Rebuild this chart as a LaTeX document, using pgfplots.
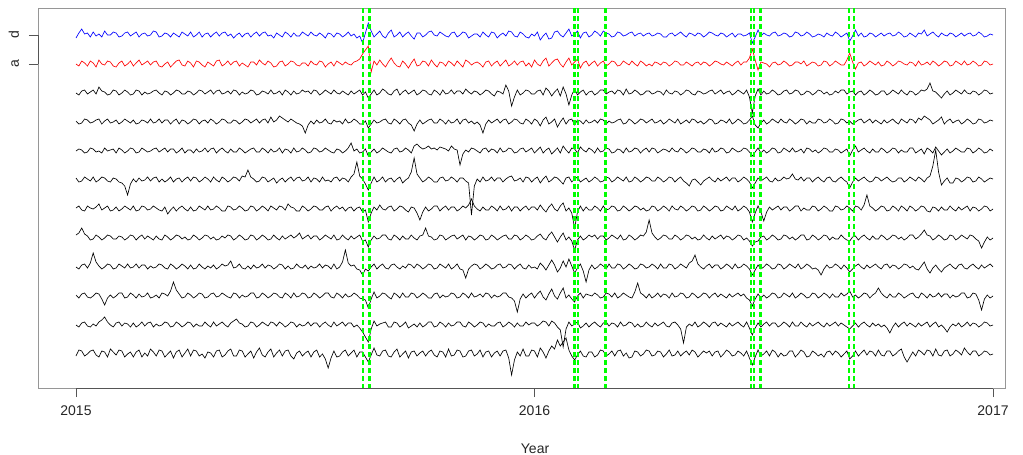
\documentclass[border=0pt]{standalone}
\usepackage{pgfplots}
\pgfplotsset{compat=1.18}
\usepackage{fontspec}
\setmainfont{Liberation Sans}
\definecolor{evgreen}{RGB}{0,255,0}
\definecolor{boxgray}{RGB}{150,150,150}
\definecolor{axisgray}{RGB}{85,85,85}
\newcommand{\lblfont}{\fontsize{14bp}{17bp}\selectfont}
% each series: half-step samples (index/2 = position on the time axis), deviations from the row baseline
\pgfplotsset{series/.style={line width=0.65bp}}

\begin{document}
\begin{tikzpicture}
\path[use as bounding box] (-38bp,-67bp) rectangle (985bp,388bp);
\begin{axis}[
  scale only axis, width=967bp, height=380bp,
  xmin=-6.63, xmax=162.09, ymin=8, ymax=388, y dir=reverse,
  clip=false,
  axis line style={boxgray, line width=0.8bp},
  xtick={0,80,160}, xticklabels={2015,2016,2017},
  ytick={35,64}, yticklabels={d,a},
  xtick pos=bottom, ytick pos=left,
  tick align=outside, major tick length=9bp,
  tick style={axisgray, line width=0.8bp},
  every tick label/.append style={font=\lblfont, text=black!85},
  xticklabel style={yshift=-5bp},
  yticklabel style={rotate=90, anchor=base, yshift=10bp},
  xlabel={Year},
  every axis x label/.style={at={(axis description cs:0.514,0)}, anchor=base, yshift=-65bp, font=\lblfont, text=black!85},
]
% axis lines drawn over the frame
\draw[axisgray, line width=0.8bp] (axis cs:0,388) -- (axis cs:160,388);
\draw[axisgray, line width=0.8bp] (axis cs:-6.63,35) -- (axis cs:-6.63,64);

% series d (blue)
\addplot[blue, series] table[row sep=\\, x expr=\coordindex/2, y expr={35-(\thisrow{v})}] {v\\
-3\\ 2\\ 6\\ 1\\ 2\\ -2\\ 3\\ -1\\ 1\\ -2\\ 4\\ 0\\ 0\\ 3\\ 2\\ -2\\ -1\\ 2\\ 3\\ -1\\
1\\ 3\\ -2\\ 1\\ 2\\ -1\\ 0\\ 4\\ 3\\ -2\\ -1\\ 2\\ 1\\ -2\\ 2\\ 0\\ -2\\ 3\\ 1\\ -1\\
3\\ -2\\ 0\\ 3\\ -2\\ 1\\ 2\\ -2\\ 1\\ 3\\ -1\\ 2\\ 3\\ -1\\ 1\\ -3\\ 0\\ 2\\ -2\\ 1\\
2\\ -2\\ 1\\ 3\\ -1\\ 2\\ 3\\ -1\\ 0\\ -3\\ 2\\ 0\\ -2\\ 3\\ 1\\ -2\\ 2\\ -1\\ -1\\ 3\\
1\\ -1\\ 3\\ 0\\ -1\\ 2\\ 0\\ -3\\ 2\\ 1\\ -2\\ 2\\ 1\\ -2\\ 0\\ 3\\ -1\\ 1\\ -3\\ -1\\
-8\\ 2\\ 12\\ 4\\ -2\\ 1\\ 4\\ -1\\ -3\\ 2\\ 5\\ -2\\ 0\\ 3\\ -2\\ 1\\ 3\\ -1\\ -4\\ 2\\
2\\ -2\\ 0\\ 3\\ 4\\ 0\\ -1\\ 3\\ 1\\ -1\\ -2\\ 2\\ 3\\ -2\\ 0\\ 3\\ 2\\ -3\\ -1\\ 1\\
1\\ -2\\ 3\\ 0\\ -2\\ 3\\ 2\\ -3\\ 0\\ 2\\ -1\\ 4\\ 3\\ -1\\ -2\\ 3\\ 1\\ -2\\ -3\\ 1\\
-1\\ 3\\ -5\\ -1\\ 2\\ -4\\ -3\\ 3\\ 4\\ 0\\ -2\\ 2\\ 6\\ -1\\ 1\\ 4\\ -3\\ 2\\ 3\\ -2\\
0\\ 4\\ 2\\ -1\\ 4\\ 2\\ 1\\ -2\\ -1\\ 3\\ 2\\ -1\\ 0\\ 2\\ 3\\ -1\\ 1\\ 2\\ -1\\ 1\\
2\\ -1\\ 0\\ 2\\ 1\\ -2\\ -2\\ 1\\ 2\\ -1\\ 1\\ 3\\ 0\\ -2\\ 2\\ 1\\ -1\\ 2\\ 1\\ -2\\
0\\ 3\\ 2\\ 0\\ -1\\ 2\\ 1\\ -2\\ 0\\ 2\\ -2\\ 1\\ 1\\ -1\\ 0\\ 2\\ -8\\ -2\\ 5\\ -1\\
2\\ 0\\ -1\\ 2\\ 3\\ -1\\ 0\\ 2\\ 1\\ -2\\ -1\\ 3\\ 2\\ -1\\ 0\\ 3\\ 1\\ -2\\ -1\\ 1\\
0\\ -2\\ 2\\ 0\\ -1\\ 3\\ 1\\ -2\\ 0\\ 2\\ -6\\ -1\\ 5\\ -1\\ 2\\ -2\\ -1\\ 2\\ 1\\ -2\\
0\\ 2\\ -1\\ 1\\ 2\\ -1\\ 0\\ 3\\ 1\\ -2\\ -1\\ 2\\ 0\\ -2\\ 2\\ 1\\ 5\\ -1\\ 1\\ 3\\
0\\ -2\\ 2\\ 0\\ -1\\ 2\\ 1\\ -2\\ 0\\ 2\\ -1\\ 1\\ 2\\ -1\\ 0\\ 3\\ 1\\ -2\\ -1\\ 1\\
0\\
};

% series a (red)
\addplot[red, series] table[row sep=\\, x expr=\coordindex/2, y expr={64-(\thisrow{v})}] {v\\
0\\ -2\\ 3\\ 1\\ -2\\ 3\\ 1\\ -3\\ 4\\ 0\\ -1\\ 3\\ 2\\ -2\\ -3\\ 1\\ 3\\ -2\\ 0\\ 3\\
-2\\ 1\\ 4\\ -1\\ 1\\ 3\\ -1\\ 2\\ 3\\ -2\\ -3\\ 0\\ 2\\ -3\\ 0\\ 3\\ 4\\ -1\\ -2\\ 3\\
1\\ -3\\ 3\\ 2\\ -1\\ -3\\ 2\\ 0\\ -2\\ 3\\ 4\\ -2\\ 0\\ 3\\ -1\\ 2\\ 3\\ -2\\ 1\\ -1\\
-3\\ 2\\ 2\\ -1\\ 4\\ 1\\ -1\\ 3\\ 1\\ -3\\ -2\\ 2\\ 3\\ -2\\ 0\\ 3\\ 2\\ -1\\ -2\\ 1\\
1\\ -2\\ 3\\ 0\\ -1\\ 3\\ 2\\ -3\\ 0\\ 2\\ -2\\ 3\\ 1\\ -1\\ 2\\ 0\\ -1\\ 2\\ 3\\ 5\\
10\\ 14\\ 18\\ -8\\ 3\\ -1\\ 4\\ 0\\ -3\\ 2\\ 6\\ 1\\ -2\\ -3\\ 3\\ 0\\ -4\\ 1\\ 5\\ -2\\
-1\\ 3\\ 2\\ -2\\ 4\\ 0\\ -3\\ 2\\ 1\\ -2\\ 3\\ 1\\ -2\\ 3\\ 0\\ -3\\ 4\\ 2\\ -1\\ 1\\
2\\ 0\\ -3\\ 2\\ 3\\ -2\\ 1\\ 3\\ -2\\ 1\\ 4\\ -2\\ 0\\ 3\\ -1\\ 2\\ 3\\ -2\\ 1\\ -3\\
4\\ 0\\ -2\\ 3\\ 6\\ -2\\ 1\\ 4\\ 5\\ 0\\ -3\\ 2\\ 6\\ -1\\ 2\\ 5\\ -4\\ 1\\ 3\\ -2\\
1\\ 3\\ -2\\ 1\\ 3\\ -2\\ 0\\ 3\\ 2\\ -2\\ -1\\ 3\\ 1\\ -1\\ 3\\ 0\\ -2\\ 3\\ 1\\ -2\\
0\\ -2\\ 2\\ 1\\ -1\\ 2\\ 1\\ -2\\ 0\\ 3\\ 2\\ -1\\ -1\\ 2\\ 0\\ -2\\ 1\\ 2\\ -1\\ 2\\
1\\ -2\\ 0\\ 3\\ 2\\ 0\\ -1\\ 2\\ 0\\ -2\\ 1\\ 3\\ -1\\ 2\\ 2\\ 6\\ 15\\ 4\\ -6\\ 2\\
1\\ 0\\ -3\\ 1\\ 2\\ -1\\ 0\\ 3\\ 1\\ -2\\ -1\\ 2\\ 2\\ 0\\ 3\\ -2\\ 0\\ 2\\ 1\\ -2\\
-1\\ 3\\ 2\\ -2\\ 0\\ 3\\ 1\\ -1\\ -1\\ 4\\ 11\\ 2\\ -5\\ 1\\ 2\\ -2\\ 0\\ 3\\ 1\\ -1\\
2\\ -2\\ -1\\ 3\\ 1\\ -2\\ 0\\ 3\\ 2\\ 0\\ -1\\ 2\\ 1\\ -2\\ 3\\ -1\\ 0\\ 2\\ -1\\ 3\\
1\\ -2\\ 0\\ 3\\ 2\\ -2\\ -1\\ 3\\ 1\\ -1\\ 3\\ -1\\ 0\\ 3\\ 1\\ -2\\ -1\\ 3\\ 2\\ -1\\
0\\
};

% series 3
\addplot[black, series] table[row sep=\\, x expr=\coordindex/2, y expr={93-(\thisrow{v})}] {v\\
0\\ -2\\ 2\\ 3\\ -1\\ 1\\ 3\\ -1\\ 6\\ 2\\ 1\\ -2\\ -1\\ 3\\ 2\\ -2\\ 0\\ 3\\ 1\\ -2\\
-1\\ 3\\ 2\\ -2\\ 1\\ -1\\ 0\\ 2\\ 3\\ 0\\ -2\\ 2\\ 1\\ -2\\ 0\\ 3\\ 2\\ -1\\ -1\\ 2\\
1\\ -2\\ 0\\ 3\\ 2\\ -1\\ 1\\ 3\\ -1\\ 2\\ 3\\ -1\\ 0\\ 2\\ -1\\ 3\\ 2\\ -2\\ 1\\ -1\\
0\\ 3\\ 2\\ -2\\ -1\\ 2\\ 1\\ -1\\ 3\\ -1\\ 0\\ 2\\ -2\\ 3\\ 1\\ -2\\ 2\\ -1\\ 0\\ 3\\
1\\ 2\\ -1\\ 3\\ 2\\ -2\\ 0\\ 3\\ 1\\ -1\\ 3\\ 0\\ -1\\ 2\\ 0\\ -2\\ 2\\ -1\\ 1\\ 3\\
-2\\ 1\\ -5\\ -1\\ 3\\ -2\\ 0\\ 4\\ 2\\ -1\\ -2\\ 2\\ 4\\ -2\\ 1\\ 3\\ -1\\ 1\\ 3\\ -2\\
0\\ 3\\ 2\\ -1\\ -2\\ 3\\ 1\\ -2\\ 3\\ -1\\ 0\\ 3\\ -1\\ 2\\ 2\\ -1\\ 4\\ 1\\ -1\\ 2\\
1\\ -2\\ 0\\ 3\\ 2\\ -1\\ -3\\ 2\\ 1\\ -1\\ 8\\ 2\\ -13\\ -4\\ 3\\ -2\\ 0\\ 3\\ 2\\ -1\\
-1\\ 2\\ 3\\ -2\\ 5\\ 2\\ -3\\ 1\\ 4\\ -3\\ 6\\ -1\\ -12\\ -2\\ 4\\ -2\\ 1\\ 3\\ -2\\ 1\\
2\\ -2\\ 0\\ 3\\ 3\\ -1\\ 1\\ 2\\ -1\\ 3\\ 2\\ -2\\ 4\\ -1\\ 0\\ 3\\ 1\\ -2\\ -1\\ 2\\
2\\ -1\\ 0\\ 2\\ 1\\ -2\\ 3\\ 0\\ -1\\ 2\\ 1\\ -2\\ 0\\ 3\\ 2\\ -1\\ -2\\ 2\\ 1\\ -1\\
0\\ 2\\ 3\\ -1\\ 1\\ 3\\ -1\\ 1\\ 2\\ -2\\ 0\\ 3\\ 1\\ -1\\ 3\\ -4\\ -20\\ -3\\ 4\\ -2\\
2\\ -1\\ 0\\ 3\\ 1\\ -2\\ -1\\ 2\\ 3\\ -1\\ 0\\ 3\\ 2\\ -2\\ -1\\ 2\\ 1\\ -2\\ 0\\ 3\\
2\\ -1\\ 1\\ -2\\ -1\\ 2\\ 0\\ 3\\ 3\\ -1\\ 1\\ 2\\ -2\\ 1\\ 2\\ -2\\ 0\\ 3\\ 1\\ -2\\
-1\\ 2\\ 2\\ -2\\ 0\\ 3\\ 1\\ -1\\ 3\\ 0\\ -2\\ 2\\ 1\\ -2\\ 0\\ 3\\ 2\\ 4\\ 10\\ 2\\
1\\ -2\\ -5\\ -1\\ 2\\ -2\\ 0\\ 3\\ 1\\ -1\\ 3\\ 0\\ -1\\ 2\\ 1\\ -2\\ 0\\ 3\\ 2\\ -1\\
0\\
};

% series 4
\addplot[black, series] table[row sep=\\, x expr=\coordindex/2, y expr={122-(\thisrow{v})}] {v\\
1\\ -2\\ -1\\ 3\\ 2\\ -1\\ 0\\ 2\\ 3\\ -2\\ 1\\ 3\\ -1\\ 0\\ 2\\ -2\\ 0\\ 3\\ 1\\ -1\\
2\\ -2\\ -1\\ 2\\ 1\\ -1\\ 3\\ -1\\ 0\\ 3\\ -1\\ 2\\ 2\\ -2\\ 1\\ 3\\ -2\\ 2\\ 1\\ -2\\
0\\ 3\\ 2\\ -2\\ 1\\ 2\\ -1\\ 3\\ 1\\ -2\\ 0\\ 3\\ 2\\ -1\\ -1\\ 2\\ 1\\ -2\\ 0\\ 3\\
2\\ -1\\ 1\\ 3\\ -1\\ 2\\ 3\\ -1\\ 5\\ 0\\ 2\\ 6\\ 4\\ 2\\ 0\\ 3\\ 1\\ -1\\ -2\\ -4\\
-11\\ -3\\ 1\\ -2\\ 2\\ -1\\ 0\\ 3\\ -1\\ -2\\ 2\\ 0\\ 1\\ -2\\ 3\\ -1\\ 0\\ 3\\ 1\\ -2\\
-2\\ 1\\ -6\\ -2\\ 2\\ -1\\ 0\\ 2\\ 3\\ -1\\ -2\\ 3\\ 1\\ -2\\ 2\\ 3\\ -1\\ -3\\ -9\\ -2\\
2\\ -2\\ 0\\ 2\\ 3\\ -1\\ -1\\ 3\\ 1\\ -2\\ 2\\ -1\\ 0\\ 3\\ -2\\ 2\\ 3\\ -1\\ 1\\ -2\\
0\\ -3\\ -11\\ -2\\ 2\\ -1\\ 1\\ 3\\ -1\\ 2\\ 3\\ -2\\ 0\\ 3\\ 2\\ -1\\ -2\\ 3\\ 1\\ -2\\
3\\ 1\\ -4\\ 2\\ 5\\ -2\\ 0\\ 3\\ -5\\ 0\\ 4\\ -2\\ 2\\ 3\\ -3\\ 2\\ 1\\ -2\\ 2\\ -1\\
0\\ 2\\ -1\\ 3\\ 2\\ -2\\ 1\\ -1\\ 0\\ 2\\ 3\\ -2\\ -1\\ 3\\ 1\\ -2\\ 0\\ 3\\ 2\\ -1\\
1\\ 3\\ -1\\ 0\\ 2\\ -2\\ 0\\ 3\\ 1\\ -1\\ 3\\ -2\\ 0\\ 2\\ -1\\ 3\\ 2\\ -1\\ 1\\ -2\\
0\\ 3\\ 2\\ -2\\ -1\\ 2\\ 1\\ -1\\ 3\\ -2\\ 0\\ 3\\ 1\\ -2\\ -1\\ 2\\ 6\\ -3\\ -6\\ -1\\
2\\ -2\\ 0\\ 3\\ 1\\ -1\\ 3\\ 0\\ -1\\ 3\\ 1\\ -2\\ 0\\ 3\\ 2\\ -2\\ 1\\ -1\\ -1\\ 3\\
2\\ -1\\ 0\\ 3\\ 1\\ -2\\ -1\\ 3\\ 2\\ -1\\ 1\\ -2\\ 0\\ 2\\ 3\\ -1\\ 1\\ 3\\ -1\\ 2\\
0\\ -2\\ 2\\ -1\\ 1\\ 3\\ 0\\ -2\\ 3\\ 1\\ -1\\ 3\\ 2\\ -1\\ 4\\ 2\\ 6\\ 4\\ 2\\ -2\\
0\\ 2\\ 5\\ -2\\ 1\\ 3\\ -1\\ 1\\ 2\\ -2\\ 0\\ 3\\ 1\\ -2\\ -1\\ 3\\ 2\\ -1\\ 0\\ 2\\
1\\
};

% series 5
\addplot[black, series] table[row sep=\\, x expr=\coordindex/2, y expr={151-(\thisrow{v})}] {v\\
0\\ 2\\ 1\\ -2\\ -1\\ 3\\ 2\\ -1\\ 0\\ -2\\ 3\\ 0\\ 1\\ 2\\ -2\\ 3\\ 1\\ -2\\ 0\\ 3\\
2\\ -2\\ -1\\ 3\\ 1\\ -1\\ 0\\ 2\\ 3\\ -1\\ 1\\ 3\\ -1\\ 2\\ 2\\ -2\\ 0\\ 3\\ -2\\ 1\\
1\\ -2\\ 2\\ -1\\ 0\\ 3\\ -1\\ 2\\ 3\\ -2\\ 1\\ 3\\ 0\\ -2\\ 2\\ -1\\ -1\\ 3\\ 1\\ -2\\
0\\ 2\\ 3\\ -1\\ -1\\ 3\\ 1\\ -2\\ 2\\ -1\\ 0\\ 3\\ -2\\ 2\\ 1\\ -2\\ 3\\ -1\\ 0\\ 3\\
1\\ -2\\ -1\\ 3\\ 2\\ -1\\ 0\\ 3\\ 1\\ -1\\ -2\\ 2\\ 1\\ -2\\ 0\\ 3\\ 8\\ 0\\ 2\\ -2\\
-1\\ 2\\ -5\\ -1\\ 2\\ -2\\ 0\\ 3\\ 1\\ -1\\ -2\\ 2\\ 3\\ -1\\ 0\\ 3\\ 1\\ -2\\ 5\\ 7\\
4\\ 2\\ 3\\ 5\\ 2\\ 3\\ 1\\ 4\\ 3\\ 2\\ 0\\ 5\\ 2\\ 1\\ -14\\ -3\\ 1\\ -1\\ 3\\ 2\\
0\\ -2\\ 2\\ 3\\ -1\\ 2\\ 1\\ -2\\ 3\\ -1\\ 0\\ 3\\ 2\\ -2\\ -1\\ 2\\ 3\\ -1\\ 1\\ 3\\
-2\\ 1\\ 4\\ -2\\ 1\\ 3\\ -3\\ 0\\ 3\\ -2\\ 5\\ 1\\ -2\\ 3\\ 2\\ -2\\ 4\\ 1\\ -1\\ 3\\
1\\ -2\\ 3\\ -1\\ 0\\ 3\\ 2\\ -2\\ -1\\ 2\\ 1\\ -2\\ 3\\ -1\\ 0\\ 3\\ 2\\ -2\\ 1\\ 3\\
-1\\ 3\\ 2\\ -2\\ 0\\ 2\\ 1\\ -1\\ 3\\ 0\\ -1\\ 3\\ 1\\ -2\\ 0\\ 3\\ 2\\ -1\\ -1\\ 2\\
1\\ -2\\ 3\\ -1\\ 0\\ 3\\ 2\\ -2\\ -1\\ 3\\ 1\\ -1\\ 0\\ 3\\ 2\\ -1\\ -5\\ -1\\ 3\\ -2\\
1\\ -2\\ 0\\ 3\\ 2\\ -2\\ -1\\ 3\\ 1\\ -1\\ 3\\ -1\\ 0\\ 2\\ -2\\ 3\\ 2\\ -1\\ 1\\ -2\\
0\\ 3\\ 2\\ -1\\ -1\\ 2\\ 1\\ -2\\ 0\\ 2\\ -5\\ 1\\ 5\\ -1\\ 1\\ 3\\ 0\\ -2\\ 2\\ -1\\
-1\\ 3\\ 1\\ -2\\ 0\\ 3\\ 2\\ -2\\ 1\\ -1\\ -1\\ 3\\ 3\\ -2\\ 0\\ 2\\ -3\\ 3\\ 1\\ -2\\
4\\ 0\\ -4\\ -1\\ 2\\ -2\\ 0\\ 3\\ 1\\ -1\\ -1\\ 3\\ 2\\ -2\\ 0\\ 3\\ 1\\ -2\\ -1\\ 2\\
0\\
};

% series 6
\addplot[black, series] table[row sep=\\, x expr=\coordindex/2, y expr={180-(\thisrow{v})}] {v\\
2\\ -2\\ -1\\ 3\\ 1\\ -1\\ 3\\ -2\\ 0\\ 3\\ 2\\ -1\\ -2\\ 2\\ 1\\ -2\\ -3\\ -6\\ -15\\ -4\\
1\\ -2\\ 2\\ -1\\ 0\\ 3\\ -1\\ 2\\ 3\\ -2\\ 1\\ -2\\ 0\\ 3\\ -2\\ 1\\ 2\\ -2\\ 1\\ 3\\
-1\\ 3\\ 2\\ -2\\ 0\\ 3\\ 1\\ -2\\ 3\\ 0\\ -2\\ 3\\ 1\\ -2\\ 0\\ 3\\ 2\\ -1\\ 4\\ 3\\
10\\ 3\\ 1\\ -2\\ -1\\ 3\\ 2\\ -2\\ 0\\ 2\\ -3\\ 0\\ 2\\ -2\\ 1\\ 3\\ -1\\ 2\\ 3\\ -1\\
0\\ 3\\ -2\\ 2\\ 1\\ -2\\ 3\\ -1\\ 0\\ -2\\ 2\\ 3\\ -1\\ 2\\ 1\\ -2\\ 3\\ 6\\ 18\\ 4\\
1\\ -4\\ -10\\ -3\\ 3\\ -2\\ 0\\ 3\\ -2\\ 1\\ 2\\ -2\\ 1\\ 3\\ -3\\ 0\\ 2\\ 8\\ 22\\ 6\\
2\\ -2\\ 0\\ 3\\ 1\\ -2\\ -2\\ 2\\ 3\\ -1\\ 0\\ 3\\ 1\\ -2\\ 2\\ 2\\ -1\\ -3\\ -35\\ -6\\
1\\ -2\\ 3\\ -1\\ 0\\ 3\\ -1\\ 2\\ 2\\ -2\\ 1\\ 3\\ 4\\ -1\\ 0\\ 2\\ -2\\ 3\\ 2\\ -2\\
1\\ 3\\ -3\\ 1\\ 4\\ -2\\ 0\\ 3\\ 2\\ -1\\ -4\\ 2\\ 3\\ -2\\ 1\\ 3\\ -2\\ 0\\ 2\\ -2\\
0\\ 3\\ 1\\ -2\\ -1\\ 3\\ 2\\ -2\\ 0\\ 3\\ 1\\ -1\\ 3\\ -2\\ -1\\ 3\\ 1\\ -2\\ 0\\ 3\\
2\\ -1\\ -1\\ 3\\ 1\\ -2\\ 0\\ 3\\ 2\\ -2\\ 1\\ 3\\ -1\\ -3\\ -6\\ 0\\ 1\\ -2\\ -5\\ -1\\
1\\ 3\\ 0\\ -2\\ 2\\ -1\\ 1\\ 3\\ -1\\ 2\\ 2\\ -2\\ 0\\ 3\\ 1\\ -2\\ -8\\ -3\\ 2\\ -1\\
1\\ 3\\ -1\\ -2\\ 2\\ -1\\ 0\\ 3\\ 1\\ 2\\ 6\\ 1\\ 0\\ 3\\ -1\\ 2\\ 2\\ -2\\ 1\\ 3\\
0\\ -2\\ 2\\ 3\\ -1\\ -2\\ 1\\ 3\\ 0\\ -2\\ -8\\ -2\\ 2\\ -1\\ 1\\ 3\\ 0\\ -2\\ -1\\ 3\\
2\\ -1\\ 1\\ 3\\ 0\\ -2\\ -1\\ 2\\ 2\\ -2\\ 0\\ 3\\ 1\\ -1\\ 3\\ 1\\ -2\\ 2\\ 4\\ 14\\
30\\ 8\\ -5\\ -1\\ 2\\ -3\\ -3\\ 2\\ 1\\ -2\\ 0\\ 3\\ 2\\ -2\\ -1\\ 3\\ 1\\ -2\\ 0\\ 2\\
1\\
};

% series 7
\addplot[black, series] table[row sep=\\, x expr=\coordindex/2, y expr={209-(\thisrow{v})}] {v\\
1\\ 3\\ -1\\ -2\\ 3\\ 1\\ 0\\ 2\\ 5\\ -1\\ 1\\ 3\\ -2\\ -1\\ 2\\ -2\\ 0\\ 3\\ 1\\ -1\\
3\\ -2\\ -1\\ 3\\ 2\\ -1\\ 0\\ 3\\ 1\\ -1\\ -2\\ 2\\ -5\\ -1\\ 2\\ -2\\ 1\\ 3\\ 0\\ -2\\
2\\ -2\\ -1\\ 3\\ 1\\ -1\\ 3\\ -1\\ 0\\ 3\\ 1\\ -2\\ -2\\ 3\\ 2\\ -1\\ 0\\ 3\\ 1\\ -2\\
-1\\ 3\\ 2\\ -2\\ 0\\ 3\\ 1\\ -2\\ 3\\ 1\\ -1\\ 3\\ 2\\ -1\\ 5\\ 2\\ 1\\ -2\\ -2\\ 3\\
1\\ -2\\ 0\\ 3\\ 2\\ -1\\ -1\\ 2\\ 3\\ -2\\ 1\\ 3\\ 0\\ 2\\ -2\\ 1\\ 2\\ -2\\ 1\\ 2\\
-3\\ -1\\ -13\\ -4\\ 2\\ -1\\ 4\\ 0\\ -1\\ 2\\ 3\\ -2\\ 0\\ 3\\ 2\\ -1\\ -3\\ 2\\ 1\\ -4\\
-11\\ -3\\ 2\\ -2\\ 0\\ 3\\ 3\\ -2\\ 1\\ 3\\ -1\\ 2\\ 2\\ -2\\ 0\\ 3\\ 1\\ 4\\ 10\\ 3\\
0\\ -2\\ 2\\ -1\\ -1\\ 3\\ 1\\ -2\\ 3\\ -1\\ 0\\ 3\\ -2\\ 2\\ 2\\ -2\\ 1\\ 3\\ -1\\ 2\\
2\\ -1\\ 4\\ 0\\ -3\\ 2\\ 5\\ 0\\ -2\\ 3\\ 6\\ -2\\ 1\\ -4\\ -19\\ -3\\ 3\\ -2\\ 2\\ -1\\
-1\\ 3\\ 1\\ -2\\ 3\\ -1\\ 0\\ 3\\ 2\\ -2\\ -1\\ 3\\ 1\\ -2\\ 0\\ 3\\ 2\\ -1\\ 1\\ -2\\
-1\\ 3\\ 2\\ -2\\ 0\\ 3\\ 1\\ -2\\ 3\\ 0\\ -1\\ 3\\ 1\\ -2\\ 0\\ 3\\ 2\\ -2\\ -1\\ 3\\
1\\ -2\\ 0\\ 3\\ 2\\ -2\\ -1\\ 3\\ 1\\ -1\\ 3\\ -2\\ 0\\ 3\\ 1\\ -3\\ -13\\ -4\\ 3\\ -3\\
-12\\ -3\\ 2\\ -1\\ 1\\ 3\\ -1\\ 2\\ 2\\ -2\\ 0\\ 3\\ 3\\ -2\\ 1\\ -1\\ -1\\ 3\\ 2\\ -2\\
0\\ 3\\ 1\\ -2\\ -2\\ 3\\ 2\\ -1\\ 0\\ 3\\ 1\\ -2\\ 3\\ 2\\ -1\\ 4\\ 14\\ 3\\ 1\\ -2\\
0\\ 3\\ 2\\ -2\\ -1\\ 3\\ 1\\ -2\\ 3\\ 1\\ -2\\ 3\\ 1\\ -2\\ 0\\ 3\\ 2\\ -2\\ -3\\ 2\\
1\\ -2\\ 2\\ -1\\ -1\\ 3\\ 0\\ -2\\ 2\\ -1\\ 1\\ 3\\ -2\\ 2\\ 1\\ -2\\ 0\\ 3\\ 2\\ -2\\
0\\
};

% series 8
\addplot[black, series] table[row sep=\\, x expr=\coordindex/2, y expr={238-(\thisrow{v})}] {v\\
3\\ 5\\ 10\\ 4\\ 2\\ -2\\ -1\\ 3\\ 1\\ -2\\ 0\\ 3\\ 2\\ -1\\ -1\\ 2\\ 1\\ -2\\ 0\\ 3\\
2\\ -2\\ 1\\ 3\\ -1\\ 2\\ 0\\ -2\\ 2\\ -1\\ -2\\ 3\\ 1\\ -2\\ 0\\ 3\\ 2\\ -1\\ 1\\ -2\\
-1\\ 3\\ 1\\ -2\\ 0\\ 3\\ 2\\ -1\\ 1\\ -2\\ -1\\ 2\\ 0\\ 3\\ 2\\ -2\\ 0\\ 3\\ 1\\ -2\\
-1\\ 3\\ 2\\ -2\\ 0\\ 3\\ 1\\ -2\\ -1\\ 3\\ 0\\ -2\\ 2\\ -1\\ 1\\ 3\\ 0\\ 2\\ 5\\ -1\\
1\\ 3\\ -1\\ 2\\ 2\\ -2\\ 0\\ 3\\ 1\\ -1\\ 3\\ -2\\ -1\\ 3\\ 0\\ -2\\ 2\\ -1\\ 1\\ 3\\
-3\\ -2\\ -9\\ -2\\ 2\\ -1\\ 0\\ 3\\ 3\\ -1\\ -2\\ 3\\ 1\\ -2\\ 2\\ -1\\ -1\\ 3\\ 0\\ -2\\
2\\ 3\\ 10\\ 2\\ 1\\ -2\\ -1\\ 3\\ 2\\ -2\\ 0\\ 2\\ 3\\ -1\\ 1\\ 3\\ -2\\ 2\\ 1\\ -2\\
0\\ 3\\ 2\\ -2\\ -1\\ 3\\ 1\\ -2\\ 0\\ 2\\ 3\\ -1\\ -1\\ 3\\ 2\\ -2\\ 0\\ 3\\ 1\\ -2\\
-1\\ 2\\ 4\\ 0\\ -2\\ 3\\ 6\\ 1\\ -4\\ 1\\ 5\\ -2\\ 1\\ -3\\ -12\\ -2\\ 2\\ -2\\ 0\\ 3\\
1\\ 3\\ -1\\ 2\\ 2\\ -2\\ 0\\ 3\\ 1\\ -1\\ 3\\ -2\\ -1\\ 3\\ 1\\ -2\\ 0\\ 3\\ 2\\ 6\\
18\\ 5\\ 1\\ -2\\ 0\\ 3\\ 2\\ -1\\ -1\\ 3\\ 1\\ -2\\ 0\\ 3\\ 2\\ -1\\ 1\\ -2\\ -1\\ 3\\
0\\ -2\\ 2\\ -1\\ 1\\ 3\\ -1\\ 2\\ 1\\ -2\\ 0\\ 3\\ 2\\ -2\\ 0\\ -3\\ -8\\ -4\\ -3\\ 1\\
2\\ -2\\ 0\\ 3\\ 1\\ -2\\ -1\\ 3\\ 2\\ -1\\ 1\\ -2\\ 0\\ 3\\ 3\\ -2\\ -1\\ 3\\ 1\\ -2\\
0\\ 3\\ 2\\ -2\\ 1\\ -1\\ -1\\ 3\\ 0\\ -2\\ -3\\ 1\\ 2\\ -2\\ 1\\ 3\\ 0\\ -2\\ 2\\ -1\\
-1\\ 3\\ 1\\ -2\\ 0\\ 3\\ 2\\ -1\\ 1\\ -2\\ 0\\ 3\\ 3\\ -1\\ 1\\ 4\\ 8\\ 3\\ 2\\ -2\\
0\\ 3\\ 1\\ -2\\ -1\\ 3\\ 2\\ -2\\ 0\\ 3\\ 1\\ -1\\ 3\\ 2\\ -1\\ -3\\ -10\\ -4\\ 1\\ -2\\
0\\
};

% series 9
\addplot[black, series] table[row sep=\\, x expr=\coordindex/2, y expr={267-(\thisrow{v})}] {v\\
0\\ -2\\ 2\\ 3\\ -1\\ 4\\ 14\\ 5\\ 1\\ -2\\ 0\\ 3\\ 2\\ -2\\ -1\\ 3\\ 1\\ -1\\ 3\\ -1\\
0\\ 3\\ -1\\ 2\\ 2\\ -2\\ 1\\ -1\\ 0\\ 3\\ 2\\ -1\\ -2\\ 3\\ 1\\ -2\\ 0\\ 3\\ 1\\ -2\\
2\\ -2\\ -1\\ 3\\ 0\\ -2\\ 1\\ -1\\ 2\\ -2\\ 0\\ 3\\ 1\\ 2\\ 6\\ -1\\ 0\\ 3\\ -1\\ -2\\
1\\ -2\\ 2\\ -1\\ 0\\ 3\\ -1\\ 2\\ 1\\ -2\\ 0\\ 3\\ 2\\ -2\\ 1\\ -2\\ -1\\ 3\\ 0\\ -1\\
2\\ -2\\ 1\\ -1\\ 0\\ 3\\ -1\\ 2\\ 1\\ -2\\ 3\\ -2\\ 0\\ 5\\ 17\\ 4\\ 1\\ 2\\ -2\\ -3\\
-8\\ -2\\ -4\\ 0\\ 3\\ -2\\ 1\\ 3\\ -1\\ -2\\ 2\\ 3\\ 0\\ -2\\ 1\\ -1\\ 3\\ 2\\ -1\\ 3\\
1\\ -2\\ 0\\ 3\\ 2\\ -2\\ -1\\ 3\\ 1\\ -1\\ 3\\ -2\\ 0\\ 3\\ -2\\ -3\\ -11\\ -2\\ 1\\ 3\\
2\\ -2\\ 0\\ 3\\ 1\\ -2\\ -1\\ 2\\ 3\\ -1\\ 0\\ 3\\ 2\\ -2\\ 1\\ 3\\ -1\\ -2\\ 2\\ -1\\
0\\ -2\\ 4\\ 1\\ -3\\ 2\\ 7\\ 2\\ -5\\ -1\\ 6\\ 0\\ 8\\ 1\\ -6\\ -1\\ 3\\ -4\\ -15\\ -3\\
2\\ -2\\ 0\\ 3\\ 1\\ -2\\ 3\\ -1\\ -1\\ 3\\ 2\\ -2\\ 0\\ 3\\ 1\\ -2\\ -1\\ 3\\ 2\\ -1\\
0\\ 3\\ 1\\ -2\\ 3\\ -1\\ -1\\ 3\\ 2\\ -2\\ 0\\ 3\\ 1\\ -1\\ 4\\ 6\\ 12\\ 3\\ 0\\ -2\\
1\\ 3\\ -1\\ 2\\ 2\\ -2\\ 0\\ 3\\ 1\\ -2\\ 3\\ -1\\ 0\\ 3\\ 1\\ -2\\ -8\\ -3\\ 2\\ -2\\
0\\ 3\\ 1\\ -2\\ -1\\ 3\\ 2\\ -2\\ 0\\ 3\\ 1\\ -1\\ 3\\ -2\\ 0\\ 3\\ 1\\ -2\\ -1\\ -3\\
-8\\ -2\\ 2\\ -1\\ 0\\ 3\\ 1\\ -2\\ 2\\ -1\\ -5\\ -2\\ 1\\ 3\\ 0\\ -2\\ 2\\ -1\\ 1\\ 3\\
0\\ -2\\ 2\\ 3\\ -1\\ 2\\ 1\\ -2\\ 0\\ 3\\ 2\\ -1\\ 1\\ -2\\ -3\\ 1\\ 5\\ -2\\ -6\\ -1\\
2\\ -2\\ -5\\ -1\\ 1\\ 3\\ 0\\ -2\\ 2\\ 3\\ -1\\ -2\\ 1\\ 3\\ 0\\ -2\\ 2\\ -1\\ 1\\ 3\\
0\\
};

% series 10
\addplot[black, series] table[row sep=\\, x expr=\coordindex/2, y expr={296-(\thisrow{v})}] {v\\
1\\ -2\\ 2\\ 3\\ -1\\ -2\\ 0\\ 3\\ 2\\ -3\\ -9\\ -2\\ 1\\ -2\\ 0\\ 3\\ 3\\ -2\\ -1\\ 3\\
1\\ -2\\ 2\\ -1\\ 0\\ 3\\ -2\\ -1\\ 1\\ -2\\ 3\\ 2\\ 0\\ 5\\ 14\\ 6\\ 2\\ -2\\ -1\\ 3\\
1\\ -2\\ 0\\ 3\\ 2\\ -2\\ -1\\ 2\\ 3\\ -1\\ 0\\ 3\\ 1\\ -1\\ -2\\ 3\\ 2\\ -2\\ 1\\ -1\\
0\\ 3\\ 3\\ -2\\ -1\\ 3\\ 1\\ -2\\ 0\\ 3\\ 2\\ -1\\ -2\\ 3\\ 1\\ -2\\ 3\\ -1\\ 0\\ 3\\
2\\ -2\\ -1\\ 3\\ 1\\ -2\\ 0\\ 3\\ 3\\ -1\\ -2\\ 3\\ 1\\ -2\\ 2\\ -1\\ 0\\ 3\\ 1\\ -2\\
-3\\ -4\\ -12\\ -3\\ 4\\ -2\\ 0\\ 3\\ 2\\ -1\\ -3\\ 3\\ 1\\ -2\\ 3\\ -1\\ -1\\ 3\\ 2\\ -2\\
0\\ 3\\ 1\\ -2\\ -2\\ 2\\ 3\\ -2\\ 1\\ -1\\ 0\\ 3\\ 2\\ -2\\ -1\\ 3\\ 1\\ -2\\ 3\\ -1\\
0\\ 2\\ -1\\ 3\\ 2\\ -2\\ 1\\ -1\\ 0\\ 3\\ 3\\ -1\\ -2\\ -5\\ -16\\ -3\\ 2\\ -2\\ 1\\ 3\\
-2\\ 2\\ 5\\ -1\\ -4\\ 2\\ 7\\ 0\\ -3\\ 3\\ 8\\ -2\\ 1\\ -3\\ -6\\ 0\\ 3\\ -2\\ 2\\ 1\\
0\\ 3\\ 1\\ -2\\ -1\\ 3\\ 2\\ -1\\ 3\\ -2\\ 0\\ 3\\ 1\\ -1\\ -2\\ 4\\ 13\\ 3\\ 1\\ -2\\
2\\ -2\\ 0\\ 3\\ -1\\ 2\\ 1\\ -2\\ 3\\ -1\\ 0\\ 3\\ 2\\ -2\\ -1\\ 3\\ 1\\ -2\\ 0\\ 3\\
2\\ -2\\ 1\\ 3\\ -1\\ 2\\ 0\\ -2\\ 2\\ -1\\ 1\\ 3\\ 0\\ 2\\ -2\\ -4\\ -10\\ -3\\ 2\\ -2\\
1\\ -2\\ 0\\ 3\\ 2\\ -2\\ -1\\ 3\\ 1\\ -1\\ 3\\ -2\\ 0\\ 3\\ 1\\ -2\\ -1\\ 3\\ 2\\ -2\\
0\\ 3\\ 1\\ -2\\ 2\\ -1\\ -1\\ 3\\ 0\\ 2\\ 5\\ -1\\ 1\\ -2\\ 0\\ 3\\ 2\\ -2\\ 1\\ 3\\
8\\ 3\\ 0\\ -2\\ 2\\ -1\\ -1\\ 3\\ 1\\ -2\\ 0\\ 2\\ 3\\ -1\\ -2\\ 3\\ 1\\ -2\\ 2\\ -1\\
0\\ 3\\ -1\\ 2\\ 2\\ -2\\ 1\\ -1\\ 0\\ 3\\ 3\\ -2\\ -1\\ 3\\ 2\\ -4\\ -14\\ -3\\ 1\\ -2\\
0\\
};

% series 11
\addplot[black, series] table[row sep=\\, x expr=\coordindex/2, y expr={325-(\thisrow{v})}] {v\\
0\\ -2\\ 2\\ 3\\ -1\\ -2\\ 1\\ -1\\ 3\\ 5\\ 8\\ 3\\ 0\\ -2\\ 2\\ 3\\ -1\\ 2\\ 1\\ -2\\
2\\ -2\\ 0\\ 3\\ -1\\ 2\\ 3\\ -2\\ 1\\ -1\\ 0\\ 3\\ 2\\ -2\\ -1\\ 3\\ 1\\ -2\\ 0\\ 3\\
2\\ -2\\ 1\\ -1\\ -1\\ 3\\ 0\\ -2\\ 3\\ -1\\ 1\\ 3\\ 0\\ -2\\ 2\\ 4\\ 6\\ 2\\ 1\\ -2\\
-1\\ 3\\ 2\\ -2\\ 0\\ 3\\ 1\\ -1\\ 3\\ 2\\ -1\\ 3\\ 1\\ -2\\ 0\\ 3\\ 2\\ -2\\ 1\\ -1\\
0\\ 3\\ -1\\ 2\\ 2\\ -2\\ 1\\ 3\\ 0\\ -2\\ 3\\ -1\\ 1\\ 3\\ -1\\ 2\\ 2\\ -2\\ 0\\ -3\\
-7\\ -12\\ -17\\ -4\\ 4\\ -1\\ 1\\ 2\\ 3\\ -2\\ -2\\ 3\\ 2\\ -2\\ 0\\ 3\\ -3\\ -1\\ 1\\ -2\\
2\\ -2\\ 0\\ 3\\ 3\\ -2\\ -1\\ 3\\ 1\\ -2\\ 2\\ -1\\ 0\\ 3\\ 3\\ -1\\ -2\\ 3\\ 1\\ -2\\
0\\ 3\\ 2\\ -2\\ 1\\ -1\\ -1\\ 2\\ 3\\ -2\\ 0\\ 3\\ 1\\ -2\\ 2\\ -1\\ -1\\ 3\\ 0\\ 2\\
2\\ -1\\ 1\\ 4\\ 3\\ -1\\ 4\\ 2\\ -2\\ -5\\ -22\\ -4\\ 3\\ -1\\ 1\\ 3\\ -3\\ -1\\ 2\\ -2\\
1\\ 3\\ 0\\ -2\\ 2\\ 3\\ -1\\ 2\\ 1\\ -2\\ 3\\ -1\\ 0\\ 3\\ 2\\ -2\\ 1\\ -2\\ -1\\ 3\\
0\\ -2\\ 2\\ -1\\ 1\\ 3\\ -1\\ -2\\ 2\\ 3\\ 0\\ -4\\ -18\\ -2\\ 1\\ -1\\ 3\\ -2\\ 0\\ 3\\
1\\ -2\\ 2\\ 3\\ -1\\ 2\\ 0\\ -2\\ 2\\ -1\\ 1\\ 3\\ 0\\ -2\\ 3\\ -3\\ -10\\ -3\\ 2\\ -2\\
1\\ 3\\ -1\\ 2\\ 2\\ -2\\ 0\\ 3\\ 1\\ -2\\ 3\\ -1\\ -1\\ 3\\ 0\\ -2\\ 2\\ -1\\ 1\\ 3\\
0\\ -2\\ 2\\ -1\\ 1\\ 3\\ -1\\ 2\\ 0\\ -2\\ -4\\ -1\\ 2\\ -2\\ 1\\ 3\\ 0\\ -2\\ 2\\ -1\\
1\\ -2\\ 0\\ -3\\ -8\\ -2\\ 2\\ -2\\ 1\\ 3\\ -1\\ 2\\ 0\\ -2\\ 2\\ -1\\ 1\\ 3\\ -2\\ 1\\
3\\ -2\\ 0\\ -3\\ -7\\ -2\\ 1\\ -1\\ 2\\ -2\\ 0\\ 3\\ -1\\ 2\\ 1\\ -2\\ 0\\ 3\\ 2\\ -1\\
0\\
};

% series 12
\addplot[black, series] table[row sep=\\, x expr=\coordindex/2, y expr={354-(\thisrow{v})}] {v\\
-2\\ 4\\ 3\\ -2\\ 0\\ 3\\ 4\\ -1\\ -3\\ 3\\ 2\\ -3\\ 5\\ 2\\ -1\\ 4\\ 3\\ -3\\ 0\\ 2\\
-3\\ 2\\ 4\\ -3\\ 1\\ -2\\ 5\\ 2\\ -2\\ 4\\ 3\\ -3\\ 0\\ 3\\ -4\\ 2\\ 4\\ -3\\ 1\\ 5\\
-2\\ 4\\ 3\\ -2\\ 0\\ -4\\ 2\\ 1\\ -3\\ 3\\ 4\\ -3\\ -1\\ 3\\ 5\\ -2\\ -2\\ 4\\ 3\\ -3\\
0\\ 3\\ -4\\ 2\\ 6\\ -1\\ -3\\ 2\\ 5\\ -3\\ 1\\ 4\\ -2\\ 3\\ 4\\ -2\\ -5\\ 1\\ 3\\ -2\\
1\\ 3\\ -3\\ 2\\ 4\\ -3\\ 0\\ -5\\ -14\\ -4\\ 3\\ -3\\ -2\\ 2\\ 4\\ -2\\ 1\\ 4\\ -3\\ 2\\
2\\ -3\\ -8\\ -1\\ 6\\ -1\\ -2\\ 3\\ 4\\ -2\\ -3\\ 2\\ 5\\ -3\\ 0\\ 3\\ -4\\ 2\\ 3\\ -2\\
1\\ 3\\ -2\\ 2\\ 4\\ -1\\ -3\\ 3\\ 2\\ -3\\ 5\\ -2\\ -1\\ 4\\ 3\\ -3\\ -2\\ 3\\ 4\\ -2\\
0\\ 4\\ -3\\ 2\\ 3\\ -3\\ 1\\ 3\\ -2\\ 3\\ 4\\ -4\\ -21\\ -6\\ 2\\ -2\\ 5\\ -2\\ -2\\ 4\\
3\\ -3\\ 6\\ 2\\ -4\\ 3\\ 8\\ 5\\ 14\\ 8\\ 12\\ 16\\ 4\\ -2\\ -6\\ -1\\ 3\\ -2\\ -3\\ 2\\
2\\ -3\\ -1\\ 4\\ 3\\ -2\\ 0\\ 3\\ -2\\ 3\\ 4\\ -2\\ 1\\ -4\\ -3\\ 3\\ 2\\ -2\\ 0\\ 4\\
3\\ -2\\ -1\\ 3\\ 2\\ -3\\ 0\\ 4\\ -2\\ -1\\ 3\\ -2\\ 1\\ 3\\ -1\\ 4\\ 2\\ -3\\ 0\\ 3\\
1\\ 3\\ -2\\ 2\\ 3\\ -3\\ 0\\ 4\\ 2\\ -2\\ -1\\ 3\\ 1\\ -2\\ 3\\ -4\\ -11\\ -3\\ 4\\ -2\\
0\\ 3\\ -2\\ 4\\ 2\\ -3\\ 1\\ -2\\ -1\\ 3\\ 3\\ -3\\ 0\\ 4\\ 2\\ -3\\ -2\\ 3\\ 1\\ -2\\
0\\ -3\\ 2\\ 3\\ -1\\ 3\\ 1\\ -3\\ 0\\ 3\\ -5\\ -2\\ 3\\ -2\\ 1\\ 4\\ -1\\ 3\\ 2\\ -2\\
4\\ -1\\ -2\\ 3\\ 3\\ -2\\ 0\\ 3\\ 5\\ -3\\ -8\\ -3\\ 2\\ -2\\ 4\\ 2\\ -1\\ 4\\ 3\\ -2\\
5\\ -1\\ -2\\ 3\\ 4\\ -2\\ 0\\ 4\\ 2\\ -1\\ 6\\ 2\\ -1\\ 3\\ 3\\ -2\\ 0\\ 3\\ 2\\ -1\\
0\\
};

% event markers
\pgfplotsinvokeforeach{50.1,51.2,87.0,87.6,92.4,117.8,118.3,119.4,134.9,135.7}{
  \addplot[evgreen, line width=2.4bp, dash pattern=on 5.3bp off 2.7bp] coordinates {(#1,8) (#1,388)};
}
\end{axis}
\end{tikzpicture}
\end{document}
